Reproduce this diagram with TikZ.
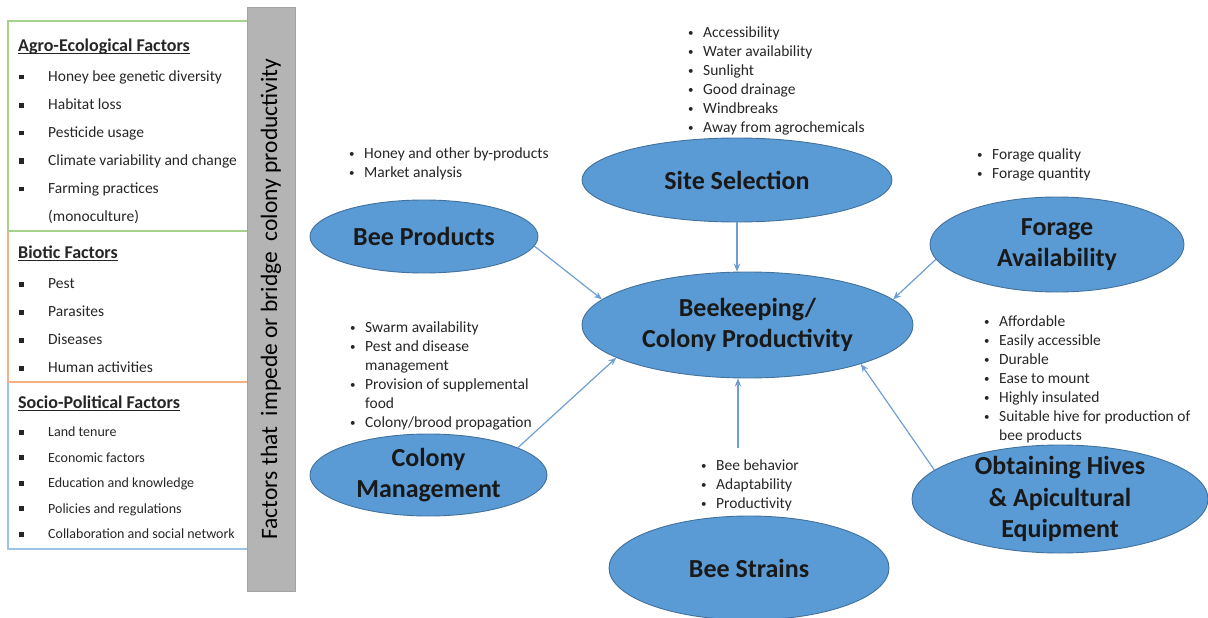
\documentclass[tikz,border=0pt]{standalone}
\usepackage{fontspec}
\setmainfont{Carlito}
\usetikzlibrary{shapes.geometric,arrows.meta}

\definecolor{hivefill}{HTML}{5B9BD5}
\definecolor{hiveline}{HTML}{41719C}
\definecolor{feedline}{HTML}{6E9ED3}
\definecolor{agrogreen}{HTML}{A9D18E}
\definecolor{bioorange}{HTML}{F4B183}
\definecolor{socioblue}{HTML}{9DC3E6}
\definecolor{barfill}{HTML}{B4B4B4}
\definecolor{barline}{HTML}{A3A3A3}

% bullets for the lists
\newcommand\bl{\makebox[15pt][l]{\raisebox{1pt}{\fontsize{11}{11}\selectfont\textbullet}}}
\newcommand\sqb{\makebox[29pt][l]{\rule[2pt]{5pt}{5pt}}}
% underlined heading with the rule just under the baseline
\newsavebox\hdbox
\newcommand\hd[1]{\sbox\hdbox{#1}\usebox\hdbox\llap{\rule[-2.3pt]{\wd\hdbox}{0.9pt}}}

\tikzset{
	factor/.style={ellipse, draw=hiveline, line width=0.9pt, fill=hivefill, inner sep=0pt},
	title/.style={align=center, text=black!90, font=\fontsize{26}{31.5}\selectfont\bfseries},
	points/.style={anchor=base west, inner sep=0pt, text=black!85, font=\fontsize{15.5}{19}\selectfont},
	group/.style={anchor=base west, inner sep=0pt, text=black!85},
	feed/.style={draw=feedline, line width=1.2pt, -{Stealth[length=8pt,width=6.5pt]}},
}

\begin{document}
\begin{tikzpicture}[x=1pt, y=-1pt]
			%%%%% START %%%%%
			\useasboundingbox (0, 0) rectangle (1208, 618);
			
			% factor boxes on the left
			\draw[line width=1.3pt, draw=socioblue] (8, 382) rectangle (252, 549);
			\draw[line width=1.3pt, draw=bioorange] (8, 231) rectangle (252, 382);
			\draw[line width=1.3pt, draw=agrogreen] (8, 21) rectangle (252, 231);
			
			\node[group, font=\fontsize{18}{22}\selectfont\bfseries] (agroHd) at (18, 51.5) {\hd{Agro-Ecological Factors}};
			\node[group, font=\fontsize{15.5}{28}\selectfont] (agro) at (19, 81.5) {\begin{tabular}[t]{@{}l@{}}
				\sqb Honey bee genetic diversity\\
				\sqb Habitat loss\\
				\sqb Pesticide usage\\
				\sqb Climate variability and change\\
				\sqb Farming practices\\
				\hspace{29pt}(monoculture)
			\end{tabular}};
			
			\node[group, font=\fontsize{18}{22}\selectfont\bfseries] (bioHd) at (18, 258.5) {\hd{Biotic Factors}};
			\node[group, font=\fontsize{15.5}{28}\selectfont] (bio) at (19, 288.5) {\begin{tabular}[t]{@{}l@{}}
				\sqb Pest\\
				\sqb Parasites\\
				\sqb Diseases\\
				\sqb Human activities
			\end{tabular}};
			
			\node[group, font=\fontsize{18}{22}\selectfont\bfseries] (socioHd) at (18, 408.5) {\hd{Socio-Political Factors}};
			\node[group, font=\fontsize{14}{25.5}\selectfont] (socio) at (19, 436.5) {\begin{tabular}[t]{@{}l@{}}
				\sqb Land tenure\\
				\sqb Economic factors\\
				\sqb Education and knowledge\\
				\sqb Policies and regulations\\
				\sqb Collaboration and social network
			\end{tabular}};
			
			\node[rotate=90, draw=barline, fill=barfill, line width=0.8pt, inner sep=0pt, minimum width=584pt, minimum height=48pt, font=\fontsize{23.5}{28}\selectfont] (bar) at (271, 299) {Factors that\ \ impede or bridge\ \ colony productivity};
			
			% the seven ellipses
			\node[factor, minimum width=331pt, minimum height=106pt, label={[title]center:Beekeeping/\\Colony Productivity}] (core) at (747.5, 325) {};
			\node[factor, minimum width=310pt, minimum height=84pt, label={[title]center:Site Selection}] (site) at (737, 180) {};
			\node[factor, minimum width=228pt, minimum height=73pt, label={[title]center:Bee Products}] (prod) at (424, 236.5) {};
			\node[factor, minimum width=254pt, minimum height=95pt, label={[title]center:Forage\\Availability}] (forage) at (1057, 244.5) {};
			\node[factor, minimum width=237pt, minimum height=82pt, label={[title]center:Colony\\Management}] (colony) at (428.5, 475) {};
			\node[factor, minimum width=280pt, minimum height=104pt, label={[title]center:Bee Strains}] (strains) at (749, 568) {};
			\node[factor, minimum width=296pt, minimum height=108pt, label={[title]center:Obtaining Hives\\\& Apicultural\\Equipment}] (hives) at (1060, 499) {};
			
			% bullet lists
			\node[points] (siteList) at (688, 37.5) {\begin{tabular}[t]{@{}l@{}}
				\bl Accessibility\\
				\bl Water availability\\
				\bl Sunlight\\
				\bl Good drainage\\
				\bl Windbreaks\\
				\bl Away from agrochemicals
			\end{tabular}};
			\node[points] (prodList) at (349, 158.5) {\begin{tabular}[t]{@{}l@{}}
				\bl Honey and other by-products\\
				\bl Market analysis
			\end{tabular}};
			\node[points] (forageList) at (977, 159.5) {\begin{tabular}[t]{@{}l@{}}
				\bl Forage quality\\
				\bl Forage quantity
			\end{tabular}};
			\node[points] (colonyList) at (350, 332.5) {\begin{tabular}[t]{@{}l@{}}
				\bl Swarm availability\\
				\bl Pest and disease\\
				\hspace{15pt}management\\
				\bl Provision of supplemental\\
				\hspace{15pt}food\\
				\bl Colony/brood propagation
			\end{tabular}};
			\node[points] (hivesList) at (984, 326.5) {\begin{tabular}[t]{@{}l@{}}
				\bl Affordable\\
				\bl Easily accessible\\
				\bl Durable\\
				\bl Ease to mount\\
				\bl Highly insulated\\
				\bl Suitable hive for production of\\
				\hspace{15pt}bee products
			\end{tabular}};
			\node[points] (strainsList) at (701, 470.5) {\begin{tabular}[t]{@{}l@{}}
				\bl Bee behavior\\
				\bl Adaptability\\
				\bl Productivity
			\end{tabular}};
			
			% arrows into the centre
			\coordinate (strainsTop) at (738, 448);
			\draw[feed] (site.south) -- (site.south |- core.north);
			\draw[feed] (prod.-5) -- (core.170);
			\draw[feed] (forage.187) -- (core.10.5);
			\draw[feed] (colony.17) -- (core.194);
			\draw[feed] (strainsTop) -- (strainsTop |- core.south);
			\draw[feed] (hives.167) -- (core.-19.5);
			
			%%%%% END %%%%%
\end{tikzpicture}
\end{document}
